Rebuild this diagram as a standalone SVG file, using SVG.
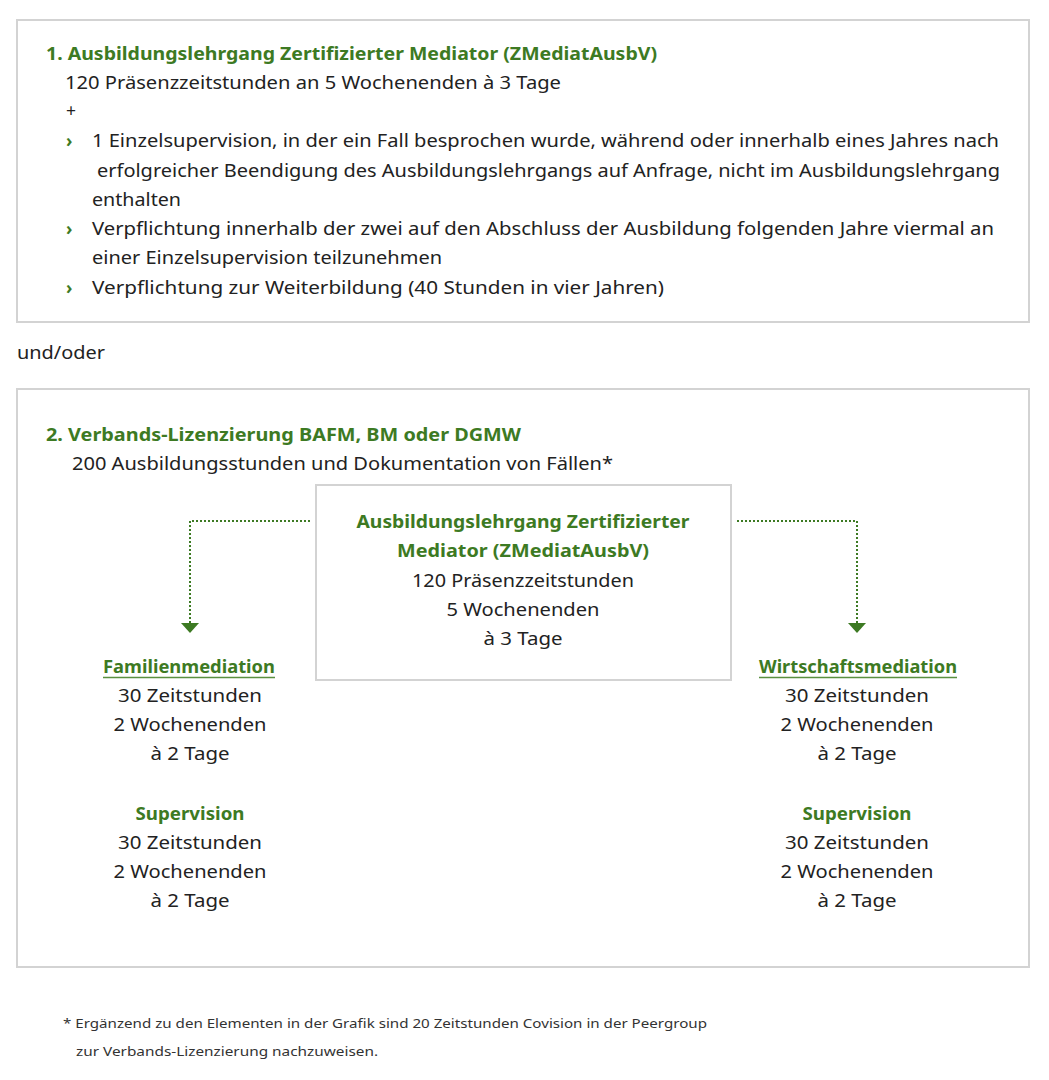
<svg xmlns="http://www.w3.org/2000/svg" width="1049" height="1080" viewBox="0 0 1049 1080">
<style>
text{font-family:"Noto Sans","Liberation Sans",sans-serif;font-size:17.5px;fill:#222;}
.g{fill:#3d7a23;font-weight:bold;}
.c{text-anchor:middle;}
.box{fill:#fff;stroke:#d3d3d3;stroke-width:2;}
.dot{fill:none;stroke:#3d7a23;stroke-width:2;stroke-dasharray:2 2;}
.bul{fill:#3d7a23;font-weight:bold;}
.fn{font-size:13px;fill:#333;}
.ul{stroke:#5a9040;stroke-width:1.5;}
</style>
<defs>
<marker id="ah" markerWidth="10" markerHeight="18" refX="0" refY="9" orient="auto" markerUnits="userSpaceOnUse" viewBox="0 0 10 18">
<polygon points="0,0 10,9 0,18" fill="#3d7a23"/>
</marker>
</defs>
<rect width="1049" height="1080" fill="#fff"/>

<g id="box1">
<rect class="box" x="17" y="20" width="1012" height="302"/>
<text class="g" x="46" y="60" textLength="611" lengthAdjust="spacingAndGlyphs">1. Ausbildungslehrgang Zertifizierter Mediator (ZMediatAusbV)</text>
<text x="65" y="89" textLength="496" lengthAdjust="spacingAndGlyphs">120 Präsenzzeitstunden an 5 Wochenenden à 3 Tage</text>
<text x="66" y="117">+</text>
<text class="bul" x="66" y="147">›</text>
<text x="92" y="147" textLength="907" lengthAdjust="spacingAndGlyphs">1 Einzelsupervision, in der ein Fall besprochen wurde, während oder innerhalb eines Jahres nach</text>
<text x="97" y="177" textLength="903" lengthAdjust="spacingAndGlyphs">erfolgreicher Beendigung des Ausbildungslehrgangs auf Anfrage, nicht im Ausbildungslehrgang</text>
<text x="92" y="206" textLength="89" lengthAdjust="spacingAndGlyphs">enthalten</text>
<text class="bul" x="66" y="235">›</text>
<text x="92" y="235" textLength="902" lengthAdjust="spacingAndGlyphs">Verpflichtung innerhalb der zwei auf den Abschluss der Ausbildung folgenden Jahre viermal an</text>
<text x="92" y="264" textLength="350" lengthAdjust="spacingAndGlyphs">einer Einzelsupervision teilzunehmen</text>
<text class="bul" x="66" y="294">›</text>
<text x="92" y="294" textLength="572" lengthAdjust="spacingAndGlyphs">Verpflichtung zur Weiterbildung (40 Stunden in vier Jahren)</text>
</g>

<g id="undoder">
<text x="17" y="359" textLength="88" lengthAdjust="spacingAndGlyphs">und/oder</text>
</g>

<g id="box2">
<rect class="box" x="17" y="389" width="1012" height="578"/>
<text class="g" x="46" y="441" textLength="475" lengthAdjust="spacingAndGlyphs">2. Verbands-Lizenzierung BAFM, BM oder DGMW</text>
<text x="72" y="470" textLength="541" lengthAdjust="spacingAndGlyphs">200 Ausbildungsstunden und Dokumentation von Fällen*</text>
</g>

<g id="center">
<rect class="box" x="316" y="485" width="415" height="195"/>
<text class="g c" x="523" y="528" textLength="333" lengthAdjust="spacingAndGlyphs">Ausbildungslehrgang Zertifizierter</text>
<text class="g c" x="523" y="557" textLength="252" lengthAdjust="spacingAndGlyphs">Mediator (ZMediatAusbV)</text>
<text class="c" x="523" y="587" textLength="222" lengthAdjust="spacingAndGlyphs">120 Präsenzzeitstunden</text>
<text class="c" x="523" y="616" textLength="153" lengthAdjust="spacingAndGlyphs">5 Wochenenden</text>
<text class="c" x="523" y="645" textLength="79" lengthAdjust="spacingAndGlyphs">à 3 Tage</text>
</g>

<g id="connectors">
<path class="dot" d="M310,521 H190 V623" marker-end="url(#ah)"/>
<path class="dot" d="M737,521 H857 V623" marker-end="url(#ah)"/>
</g>

<g id="familien">
<text class="g c" x="189" y="673" textLength="172" lengthAdjust="spacingAndGlyphs">Familienmediation</text>
<line class="ul" x1="103" y1="677.5" x2="275" y2="677.5"/>
<text class="c" x="190" y="702" textLength="144" lengthAdjust="spacingAndGlyphs">30 Zeitstunden</text>
<text class="c" x="190" y="731" textLength="153" lengthAdjust="spacingAndGlyphs">2 Wochenenden</text>
<text class="c" x="190" y="760" textLength="79" lengthAdjust="spacingAndGlyphs">à 2 Tage</text>
<text class="g c" x="190" y="820" textLength="109" lengthAdjust="spacingAndGlyphs">Supervision</text>
<text class="c" x="190" y="849" textLength="144" lengthAdjust="spacingAndGlyphs">30 Zeitstunden</text>
<text class="c" x="190" y="878" textLength="153" lengthAdjust="spacingAndGlyphs">2 Wochenenden</text>
<text class="c" x="190" y="907" textLength="79" lengthAdjust="spacingAndGlyphs">à 2 Tage</text>
</g>

<g id="wirtschaft">
<text class="g c" x="858" y="673" textLength="198" lengthAdjust="spacingAndGlyphs">Wirtschaftsmediation</text>
<line class="ul" x1="759" y1="677.5" x2="957" y2="677.5"/>
<text class="c" x="857" y="702" textLength="144" lengthAdjust="spacingAndGlyphs">30 Zeitstunden</text>
<text class="c" x="857" y="731" textLength="153" lengthAdjust="spacingAndGlyphs">2 Wochenenden</text>
<text class="c" x="857" y="760" textLength="79" lengthAdjust="spacingAndGlyphs">à 2 Tage</text>
<text class="g c" x="857" y="820" textLength="109" lengthAdjust="spacingAndGlyphs">Supervision</text>
<text class="c" x="857" y="849" textLength="144" lengthAdjust="spacingAndGlyphs">30 Zeitstunden</text>
<text class="c" x="857" y="878" textLength="153" lengthAdjust="spacingAndGlyphs">2 Wochenenden</text>
<text class="c" x="857" y="907" textLength="79" lengthAdjust="spacingAndGlyphs">à 2 Tage</text>
</g>

<g id="footnote">
<text class="fn" x="63" y="1028" textLength="644" lengthAdjust="spacingAndGlyphs">* Ergänzend zu den Elementen in der Grafik sind 20 Zeitstunden Covision in der Peergroup</text>
<text class="fn" x="76" y="1056" textLength="302" lengthAdjust="spacingAndGlyphs">zur Verbands-Lizenzierung nachzuweisen.</text>
</g>
</svg>
